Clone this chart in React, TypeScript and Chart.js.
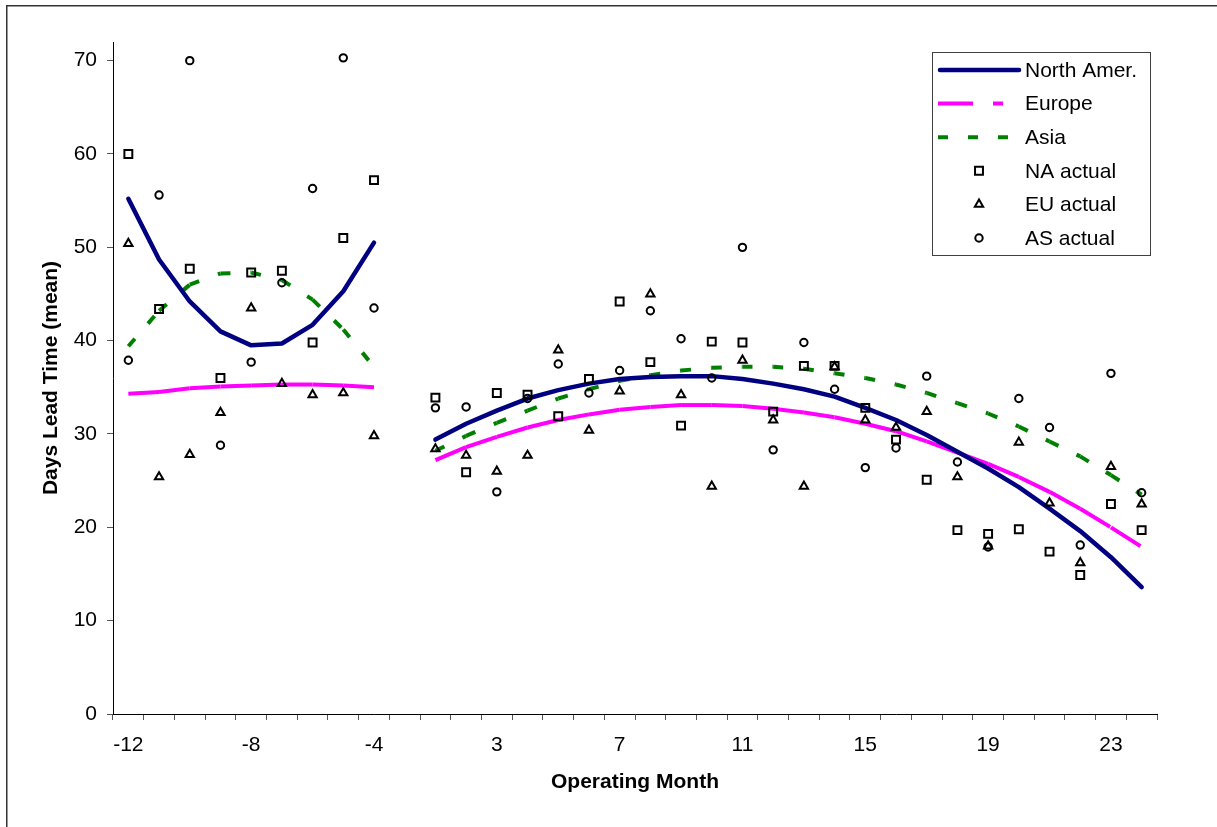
import React, { useEffect, useRef } from 'react';
import { Chart, registerables } from 'chart.js';
import { drawPoint } from 'chart.js/helpers';

Chart.register(...registerables);

const months = ['-12', '-11', '-10', '-9', '-8', '-7', '-6', '-5', '-4', '0', '1', '2', '3', '4', '5', '6', '7', '8', '9', '10', '11', '12', '13', '14', '15', '16', '17', '18', '19', '20', '21', '22', '23', '24'];
const xTickLabels = ['-12', '-8', '-4', '3', '7', '11', '15', '19', '23'];
const yTicks = [0, 10, 20, 30, 40, 50, 60, 70];

const naFit = [55.2, 48.7, 44.2, 41.0, 39.5, 39.7, 41.7, 45.3, 50.5, null, 29.4, 31.1, 32.5, 33.8, 34.7, 35.4, 35.9, 36.1, 36.2, 36.2, 35.9, 35.4, 34.8, 34.0, 32.8, 31.5, 29.9, 28.1, 26.3, 24.3, 22.0, 19.6, 16.8, 13.6];
const euFit = [34.3, 34.5, 34.9, 35.1, 35.2, 35.3, 35.3, 35.2, 35.0, null, 27.2, 28.6, 29.7, 30.7, 31.5, 32.1, 32.6, 32.9, 33.1, 33.1, 33.0, 32.7, 32.3, 31.8, 31.1, 30.3, 29.2, 28.0, 26.8, 25.4, 23.8, 22.0, 20.0, 17.9];
const asFit = [39.4, 43.2, 46.0, 47.2, 47.3, 46.5, 44.4, 41.2, 37.2, null, 28.2, 29.8, 31.2, 32.5, 33.8, 34.8, 35.7, 36.3, 36.8, 37.1, 37.2, 37.2, 37.0, 36.5, 36.0, 35.3, 34.4, 33.3, 32.2, 30.8, 29.2, 27.6, 25.6, 23.5];

const naActual = [60.0, 43.4, 47.7, 36.0, 47.3, 47.5, 39.8, 51.0, 57.2, null, 33.9, 25.9, 34.4, 34.2, 31.9, 35.9, 44.2, 37.7, 30.9, 39.9, 39.8, 32.4, 37.3, 37.3, 32.8, 29.4, 25.1, 19.7, 19.3, 19.8, 17.4, 14.9, 22.5, 19.7];
const euActual = [50.4, 25.4, 27.8, 32.3, 43.5, 35.4, 34.2, 34.4, 29.8, null, 28.4, 27.7, 26.0, 27.7, 39.0, 30.4, 34.6, 45.0, 34.2, 24.4, 37.9, 31.5, 24.4, 37.2, 31.5, 30.7, 32.4, 25.4, 18.0, 29.1, 22.6, 16.2, 26.5, 22.5];
const asActual = [37.9, 55.6, 70.0, 28.8, 37.7, 46.2, 56.3, 70.3, 43.5, null, 32.8, 32.9, 23.8, 33.8, 37.5, 34.4, 36.8, 43.2, 40.2, 36.0, 50.0, 28.3, 39.8, 34.8, 26.4, 28.5, 36.2, 27.0, 17.9, 33.8, 30.7, 18.1, 36.5, 23.7];

const FONT = "'Liberation Sans', Arial, sans-serif";
const EU_DASH = [35, 20, 10, 20];
const AS_DASH = [10, 20];

const framePlugin = {
  id: 'frame',
  beforeDraw(chart: any) {
    const ctx = chart.ctx;
    ctx.save();
    ctx.strokeStyle = '#333333';
    ctx.lineWidth = 1.5;
    ctx.strokeRect(6.75, 5.75, 1400, 1000);
    ctx.restore();
  },
};

const legendPlugin = {
  id: 'boxLegend',
  afterDraw(chart: any) {
    const ctx = chart.ctx;
    ctx.save();
    ctx.strokeStyle = '#404040';
    ctx.lineWidth = 1;
    ctx.fillStyle = '#ffffff';
    ctx.fillRect(932.5, 52.5, 218, 203);
    ctx.strokeRect(932.5, 52.5, 218, 203);
    chart.data.datasets.forEach((ds: any, i: number) => {
      const y = 70 + i * 33.6;
      if (ds.showLine !== false) {
        ctx.save();
        ctx.strokeStyle = ds.borderColor;
        ctx.lineWidth = ds.borderWidth;
        ctx.lineCap = ds.borderCapStyle || 'butt';
        ctx.setLineDash(ds.borderDash || []);
        ctx.beginPath();
        if (ds.borderCapStyle === 'round') {
          ctx.moveTo(940, y);
          ctx.lineTo(1019, y);
        } else {
          ctx.moveTo(938, y);
          ctx.lineTo(1021, y);
        }
        ctx.stroke();
        ctx.restore();
      } else {
        ctx.save();
        ctx.strokeStyle = ds.pointBorderColor;
        ctx.fillStyle = 'rgba(0,0,0,0)';
        ctx.lineWidth = ds.pointBorderWidth;
        drawPoint(ctx, { radius: ds.pointRadius, pointStyle: ds.pointStyle, rotation: 0, borderWidth: ds.pointBorderWidth }, 979, y);
        ctx.restore();
      }
      ctx.fillStyle = '#000000';
      ctx.font = `21px ${FONT}`;
      ctx.textBaseline = 'middle';
      ctx.textAlign = 'left';
      ctx.fillText(ds.label, 1025, y + 1);
    });
    ctx.restore();
  },
};

export default function App() {
  const ref = useRef<HTMLCanvasElement>(null);

  useEffect(() => {
    if (!ref.current) return;
    const markerBase = {
      type: 'line' as const,
      showLine: false,
      pointBorderColor: '#000000',
      pointBackgroundColor: 'rgba(0,0,0,0)',
      borderColor: '#000000',
      backgroundColor: 'rgba(0,0,0,0)',
      pointBorderWidth: 2,
      pointHoverRadius: 0,
      order: 1,
    };
    const chart = new Chart(ref.current, {
      type: 'line',
      data: {
        labels: months,
        datasets: [
          {
            label: 'North Amer.',
            data: naFit,
            borderColor: '#000080',
            borderWidth: 4.5,
            borderCapStyle: 'round',
            borderJoinStyle: 'round',
            pointRadius: 0,
            tension: 0,
            spanGaps: false,
            order: 2,
          },
          {
            label: 'Europe',
            data: euFit,
            borderColor: '#ff00ff',
            borderWidth: 4,
            borderDash: EU_DASH,
            borderCapStyle: 'butt',
            pointRadius: 0,
            tension: 0,
            spanGaps: false,
            order: 2,
            segment: {
              borderDashOffset: (c: any) => (c.p0DataIndex % 2) * 85,
            },
          },
          {
            label: 'Asia',
            data: asFit,
            borderColor: '#008000',
            borderWidth: 4,
            borderDash: AS_DASH,
            borderCapStyle: 'butt',
            pointRadius: 0,
            tension: 0,
            spanGaps: false,
            order: 2,
            segment: {
              borderDashOffset: (c: any) => (c.p0DataIndex % 2) * 30,
            },
          },
          { ...markerBase, label: 'NA actual', data: naActual, pointStyle: 'rect', pointRadius: 5.6 },
          { ...markerBase, label: 'EU actual', data: euActual, pointStyle: 'triangle', pointRadius: 4.8 },
          { ...markerBase, label: 'AS actual', data: asActual, pointStyle: 'circle', pointRadius: 3.7 },
        ] as any,
      },
      options: {
        animation: false,
        responsive: false,
        devicePixelRatio: 1,
        events: [],
        layout: { padding: { top: 42, right: 60, bottom: 0, left: 0 } },
        plugins: {
          legend: { display: false },
          tooltip: { enabled: false },
          title: { display: false },
        },
        scales: {
          x: {
            type: 'category',
            offset: true,
            afterFit: (s: any) => { s.height = 113; },
            grid: { offset: true, drawOnChartArea: false, drawTicks: true, tickLength: 6, color: '#555555', lineWidth: 1 },
            border: { display: true, color: '#000000', width: 1 },
            ticks: {
              autoSkip: false,
              maxRotation: 0,
              minRotation: 0,
              padding: 13,
              color: '#000000',
              font: { family: FONT, size: 21, lineHeight: 1.2 },
              callback: (_v: any, i: number) => (xTickLabels.includes(months[i]) ? months[i] : ''),
            },
            title: {
              display: true,
              text: 'Operating Month',
              color: '#000000',
              font: { family: FONT, size: 21, weight: 'bold', lineHeight: 1.2 },
              padding: { top: 0, bottom: 32 },
            },
          },
          y: {
            type: 'linear',
            min: 0,
            max: 72,
            afterFit: (s: any) => { s.width = 113; },
            afterBuildTicks: (s: any) => { s.ticks = yTicks.map((v) => ({ value: v })); },
            grid: { drawOnChartArea: false, drawTicks: true, tickLength: 6, color: '#555555', lineWidth: 1 },
            border: { display: true, color: '#000000', width: 1 },
            ticks: {
              stepSize: 10,
              padding: 10,
              color: '#000000',
              font: { family: FONT, size: 21, lineHeight: 1.2 },
            },
            title: {
              display: true,
              text: 'Days Lead Time (mean)',
              color: '#000000',
              font: { family: FONT, size: 21, weight: 'bold', lineHeight: 1.2 },
              padding: { top: 39, bottom: 0 },
            },
          },
        },
      } as any,
      plugins: [framePlugin, legendPlugin],
    });
    return () => chart.destroy();
  }, []);

  return (
    <div style={{ position: 'absolute', left: 0, top: 0, width: 1217, height: 827, background: '#ffffff' }}>
      <canvas ref={ref} width={1217} height={827} style={{ display: 'block' }} />
    </div>
  );
}
